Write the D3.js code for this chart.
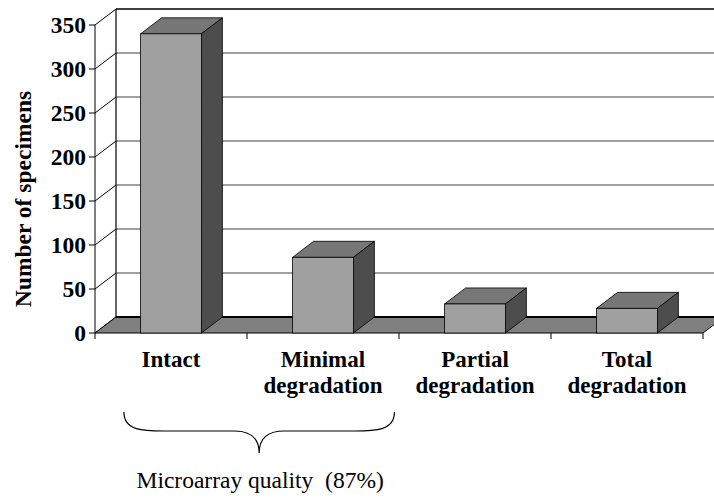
<!DOCTYPE html>
<html>
<head>
<meta charset="utf-8">
<script src="https://cdnjs.cloudflare.com/ajax/libs/d3/7.8.5/d3.min.js"></script>
<style>
  body { margin: 0; background: #fff; }
</style>
</head>
<body>
<div id="bar"></div>
<script>
// Daten
var categories = ["Intact", "Minimal degradation", "Partial degradation", "Total degradation"];
var specimens = [340, 86, 33, 28];
var yTicks = [0, 50, 100, 150, 200, 250, 300, 350];
var braceLabel = "Microarray quality\u00a0\u00a0(87%)";

// Geometrie
var W = 714, H = 500;
var depthX = 21, depthY = -16; // 3D-Versatz nach hinten
var serif = "'Times New Roman', 'Liberation Serif', Tinos, serif";

var svg = d3.select("#bar").append("svg")
  .attr("width", W)
  .attr("height", H)
  .attr("font-family", serif);

var x = d3.scaleBand()
  .domain(categories)
  .range([95, 703])
  .paddingInner(0.6)
  .paddingOuter(0.3);

var y = d3.scaleLinear()
  .domain([0, 350])
  .range([333, 25]);

var step = x.step();
var xLeft = x.range()[0], xRight = x.range()[1];

// Rückwand
svg.append("rect")
  .attr("x", xLeft + depthX)
  .attr("y", y(350) + depthY)
  .attr("width", W)
  .attr("height", y(0) - y(350))
  .attr("fill", "#fff");

// Gitterlinien an der Rückwand
svg.selectAll(".grid")
  .data(yTicks.filter(function (d) { return d > 0 && d < 350; }))
  .enter().append("line")
  .attr("class", "grid")
  .attr("x1", xLeft + depthX)
  .attr("x2", xRight + depthX + 30)
  .attr("y1", function (d) { return y(d) + depthY; })
  .attr("y2", function (d) { return y(d) + depthY; })
  .attr("stroke", "#808080")
  .attr("stroke-width", 1.5);

// obere Kante der Rückwand
svg.append("line")
  .attr("x1", xLeft + depthX).attr("x2", xRight + depthX + 30)
  .attr("y1", y(350) + depthY).attr("y2", y(350) + depthY)
  .attr("stroke", "#000").attr("stroke-width", 1.5);

// linke Kante der Rückwand
svg.append("line")
  .attr("x1", xLeft + depthX).attr("x2", xLeft + depthX)
  .attr("y1", y(350) + depthY).attr("y2", y(0) + depthY)
  .attr("stroke", "#000").attr("stroke-width", 1.2);

// Diagonalen an der Seitenwand
svg.selectAll(".diag")
  .data(yTicks)
  .enter().append("line")
  .attr("class", "diag")
  .attr("x1", xLeft)
  .attr("x2", xLeft + depthX)
  .attr("y1", function (d) { return y(d); })
  .attr("y2", function (d) { return y(d) + depthY; })
  .attr("stroke", "#000")
  .attr("stroke-width", 1);

// Boden
var floorPts = [
  [xLeft, y(0)], [xRight, y(0)],
  [xRight + depthX, y(0) + depthY], [xLeft + depthX, y(0) + depthY]
];
svg.append("polygon")
  .attr("points", floorPts.map(function (p) { return p.join(","); }).join(" "))
  .attr("fill", "#808080")
  .attr("stroke", "#000")
  .attr("stroke-width", 1);
svg.append("line")
  .attr("x1", xLeft + depthX).attr("x2", xRight + depthX)
  .attr("y1", y(0) + depthY).attr("y2", y(0) + depthY)
  .attr("stroke", "#000").attr("stroke-width", 2);

// Balken (Front, Deckel, Seite)
var bars = svg.selectAll(".bar")
  .data(categories.map(function (c, i) { return { cat: c, total: specimens[i] }; }))
  .enter().append("g")
  .attr("class", "bar");

bars.append("polygon") // Deckel
  .attr("points", function (d) {
    var x0 = x(d.cat), x1 = x0 + x.bandwidth(), yt = y(d.total);
    return [[x0, yt], [x1, yt], [x1 + depthX, yt + depthY], [x0 + depthX, yt + depthY]]
      .map(function (p) { return p.join(","); }).join(" ");
  })
  .attr("fill", "#777")
  .attr("stroke", "#000")
  .attr("stroke-width", 0.8);

bars.append("polygon") // Seite
  .attr("points", function (d) {
    var x1 = x(d.cat) + x.bandwidth(), yt = y(d.total), yb = y(0);
    return [[x1, yt], [x1 + depthX, yt + depthY], [x1 + depthX, yb + depthY], [x1, yb]]
      .map(function (p) { return p.join(","); }).join(" ");
  })
  .attr("fill", "#4d4d4d")
  .attr("stroke", "#000")
  .attr("stroke-width", 0.8);

bars.append("rect") // Front
  .attr("x", function (d) { return x(d.cat); })
  .attr("y", function (d) { return y(d.total); })
  .attr("width", x.bandwidth())
  .attr("height", function (d) { return y(0) - y(d.total); })
  .attr("fill", "#a0a0a0")
  .attr("stroke", "#000")
  .attr("stroke-width", 0.8);

// y-Achse
svg.append("line")
  .attr("x1", xLeft).attr("x2", xLeft)
  .attr("y1", y(0)).attr("y2", y(350))
  .attr("stroke", "#000").attr("stroke-width", 1);

svg.selectAll(".ytick")
  .data(yTicks)
  .enter().append("line")
  .attr("class", "ytick")
  .attr("x1", xLeft - 6).attr("x2", xLeft)
  .attr("y1", function (d) { return y(d); })
  .attr("y2", function (d) { return y(d); })
  .attr("stroke", "#000");

svg.selectAll(".ylabel")
  .data(yTicks)
  .enter().append("text")
  .attr("class", "ylabel")
  .attr("x", xLeft - 9)
  .attr("y", function (d) { return y(d); })
  .attr("dy", "0.35em")
  .attr("text-anchor", "end")
  .attr("font-size", 23.5)
  .attr("font-weight", "bold")
  .text(function (d) { return d; });

svg.append("text")
  .attr("transform", "translate(31,199) rotate(-90)")
  .attr("text-anchor", "middle")
  .attr("font-size", 23.5)
  .attr("font-weight", "bold")
  .text("Number of specimens");

// x-Achse: Striche zwischen Kategorien
var xTickPos = d3.range(categories.length + 1).map(function (i) { return xLeft + i * step; });
svg.selectAll(".xtick")
  .data(xTickPos)
  .enter().append("line")
  .attr("class", "xtick")
  .attr("x1", function (d) { return d; })
  .attr("x2", function (d) { return d; })
  .attr("y1", y(0)).attr("y2", y(0) + 6)
  .attr("stroke", "#000");

var labels = svg.selectAll(".xlabel")
  .data(categories)
  .enter().append("text")
  .attr("class", "xlabel")
  .attr("text-anchor", "middle")
  .attr("font-size", 23)
  .attr("font-weight", "bold");

labels.selectAll("tspan")
  .data(function (d) { return d.split(" ").map(function (w) { return { cat: d, word: w }; }); })
  .enter().append("tspan")
  .attr("x", function (d) { return x(d.cat) + x.bandwidth() / 2; })
  .attr("y", function (d, i) { return 367 + i * 26; })
  .text(function (d) { return d.word; });

// geschweifte Klammer unter Intact + Minimal
var bx0 = xLeft + step * 0.19, bx1 = xLeft + step * 1.97;
var bm = (bx0 + bx1) / 2;
var bTop = 412, bMid = 431, bTip = 453;
var brace = d3.path();
brace.moveTo(bx0, bTop);
brace.bezierCurveTo(bx0, bMid, bx0 + 20, bMid, bx0 + 40, bMid);
brace.lineTo(bm - 25, bMid);
brace.bezierCurveTo(bm - 8, bMid, bm, bMid + 8, bm, bTip);
brace.bezierCurveTo(bm, bMid + 8, bm + 8, bMid, bm + 25, bMid);
brace.lineTo(bx1 - 40, bMid);
brace.bezierCurveTo(bx1 - 20, bMid, bx1, bMid, bx1, bTop);
svg.append("path")
  .attr("d", brace.toString())
  .attr("fill", "none")
  .attr("stroke", "#000")
  .attr("stroke-width", 1.2);

svg.append("text")
  .attr("x", bm + 1)
  .attr("y", 488)
  .attr("text-anchor", "middle")
  .attr("font-size", 23.5)
  .text(braceLabel);
</script>
</body>
</html>
